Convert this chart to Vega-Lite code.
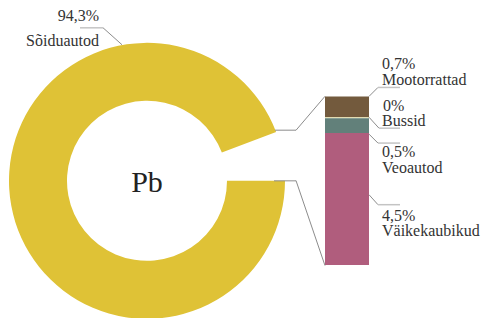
{
 "$schema": "https://vega.github.io/schema/vega-lite/v6.json",
 "width": 482, "height": 318,
 "autosize": {"type": "fit", "contains": "padding"},
 "padding": 0,
 "background": "white",
 "config": {"view": {"stroke": null}},
 "data": {"values": [
  {"category": "Sõiduautod", "pct": 94.3, "share": "94,3%", "order": 0},
  {"category": "Mootorrattad", "pct": 0.7, "share": "0,7%", "order": 1},
  {"category": "Bussid", "pct": 0.05, "share": "0%", "order": 2},
  {"category": "Veoautod", "pct": 0.5, "share": "0,5%", "order": 3},
  {"category": "Väikekaubikud", "pct": 4.5, "share": "4,5%", "order": 4}
 ]},
 "layer": [
  {"transform": [{"stack": "pct", "groupby": [], "sort": [{"field": "order", "order": "ascending"}], "as": ["th0", "th1"]}, {"filter": "datum.order === 0"}],
   "mark": {"type": "arc", "outerRadius": 138, "innerRadius": 80},
   "encoding": {
    "x": {"datum": 147, "type": "quantitative", "stack": null, "axis": null, "scale": {"domain": [0, 482], "nice": false, "zero": false}},
    "y": {"datum": 2.881, "type": "quantitative", "stack": null, "axis": null, "scale": {"domain": [-3.288, 7.492], "nice": false, "zero": false, "reverse": true}},
    "theta": {"field": "th0", "type": "quantitative", "stack": null, "scale": {"domain": [0, 100.05], "range": [1.5707963, 7.8539816], "nice": false, "zero": false}},
    "theta2": {"field": "th1"},
    "color": {"field": "category", "type": "nominal", "legend": null, "scale": {"domain": ["Sõiduautod", "Mootorrattad", "Bussid", "Veoautod", "Väikekaubikud"], "range": ["#dfc236", "#735a3d", "#e2dcb4", "#62807a", "#b05d7d"]}}
   }},
  {"transform": [{"filter": "datum.order === 0"}],
   "mark": {"type": "text", "text": "Pb", "font": "Liberation Serif", "fontSize": 30, "color": "#222", "align": "center", "baseline": "alphabetic"},
   "encoding": {"x": {"datum": 147, "type": "quantitative", "axis": null}, "y": {"datum": 3.254, "type": "quantitative", "axis": null}}},
  {"transform": [{"filter": "datum.order === 0"}],
   "mark": {"type": "text", "font": "Liberation Serif", "fontSize": 16, "color": "#333", "align": "right", "baseline": "alphabetic"},
   "encoding": {"x": {"datum": 99, "type": "quantitative", "axis": null}, "y": {"datum": -2.576, "type": "quantitative", "axis": null}, "text": {"field": "share", "type": "nominal"}}},
  {"transform": [{"filter": "datum.order === 0"}],
   "mark": {"type": "text", "font": "Liberation Serif", "fontSize": 16, "color": "#333", "align": "right", "baseline": "alphabetic"},
   "encoding": {"x": {"datum": 99, "type": "quantitative", "axis": null}, "y": {"datum": -1.729, "type": "quantitative", "axis": null}, "text": {"field": "category", "type": "nominal"}}},

  {"transform": [{"filter": "datum.order === 0"}],
   "mark": {"type": "point", "shape": "M-1,0L1,0", "size": 529, "filled": false, "color": "#c4c4c4", "strokeWidth": 1.5, "opacity": 1},
   "encoding": {"x": {"datum": 91.5, "type": "quantitative", "axis": null}, "y": {"datum": -2.339, "type": "quantitative", "axis": null}}},
  {"transform": [{"filter": "datum.order === 0"}],
   "mark": {"type": "point", "shape": "M-1,-0.895L1,0.895", "size": 361, "filled": false, "color": "#8c8c8c", "strokeWidth": 1, "opacity": 1},
   "encoding": {"x": {"datum": 112.5, "type": "quantitative", "axis": null}, "y": {"datum": -2.051, "type": "quantitative", "axis": null}}},
  {"transform": [{"filter": "datum.order === 0"}],
   "mark": {"type": "point", "shape": "M-1,0L1,0", "size": 441, "filled": false, "color": "#8c8c8c", "strokeWidth": 1, "opacity": 1},
   "encoding": {"x": {"datum": 285.5, "type": "quantitative", "axis": null}, "y": {"datum": 1.153, "type": "quantitative", "axis": null}}},
  {"transform": [{"filter": "datum.order === 0"}],
   "mark": {"type": "point", "shape": "M-0.853,1L0.853,-1", "size": 1156, "filled": false, "color": "#8c8c8c", "strokeWidth": 1, "opacity": 1},
   "encoding": {"x": {"datum": 310.5, "type": "quantitative", "axis": null}, "y": {"datum": 0.576, "type": "quantitative", "axis": null}}},
  {"transform": [{"filter": "datum.order === 0"}],
   "mark": {"type": "point", "shape": "M-1,0L1,0", "size": 484, "filled": false, "color": "#8c8c8c", "strokeWidth": 1, "opacity": 1},
   "encoding": {"x": {"datum": 285, "type": "quantitative", "axis": null}, "y": {"datum": 2.881, "type": "quantitative", "axis": null}}},
  {"transform": [{"filter": "datum.order === 0"}],
   "mark": {"type": "point", "shape": "M-0.341,-1L0.341,1", "size": 7225, "filled": false, "color": "#8c8c8c", "strokeWidth": 1, "opacity": 1},
   "encoding": {"x": {"datum": 310.5, "type": "quantitative", "axis": null}, "y": {"datum": 4.322, "type": "quantitative", "axis": null}}},

  {"transform": [{"filter": "datum.order > 0"}, {"stack": "pct", "groupby": [], "sort": [{"field": "order", "order": "ascending"}], "as": ["y0", "y1"]}],
   "mark": {"type": "bar"},
   "encoding": {
    "x": {"datum": 325, "type": "quantitative", "axis": null}, "x2": {"datum": 369},
    "y": {"field": "y0", "type": "quantitative", "axis": null}, "y2": {"field": "y1"},
    "color": {"field": "category", "type": "nominal", "legend": null}
   }},

  {"transform": [{"filter": "datum.order === 1"}],
   "mark": {"type": "point", "shape": "M-1,1L1,-1", "size": 81, "filled": false, "color": "#8c8c8c", "strokeWidth": 1, "opacity": 1},
   "encoding": {"x": {"datum": 373.5, "type": "quantitative", "axis": null}, "y": {"datum": -0.153, "type": "quantitative", "axis": null}}},
  {"transform": [{"filter": "datum.order === 1"}],
   "mark": {"type": "point", "shape": "M-1,0L1,0", "size": 484, "filled": false, "color": "#c4c4c4", "strokeWidth": 1.5, "opacity": 1},
   "encoding": {"x": {"datum": 389, "type": "quantitative", "axis": null}, "y": {"datum": -0.305, "type": "quantitative", "axis": null}}},
  {"transform": [{"filter": "datum.order === 2"}],
   "mark": {"type": "point", "shape": "M-0.909,-1L0.909,1", "size": 121, "filled": false, "color": "#8c8c8c", "strokeWidth": 1, "opacity": 1},
   "encoding": {"x": {"datum": 374, "type": "quantitative", "axis": null}, "y": {"datum": 0.898, "type": "quantitative", "axis": null}}},
  {"transform": [{"filter": "datum.order === 2"}],
   "mark": {"type": "point", "shape": "M-1,0L1,0", "size": 441, "filled": false, "color": "#c4c4c4", "strokeWidth": 1.5, "opacity": 1},
   "encoding": {"x": {"datum": 389.5, "type": "quantitative", "axis": null}, "y": {"datum": 1.085, "type": "quantitative", "axis": null}}},
  {"transform": [{"filter": "datum.order === 3"}],
   "mark": {"type": "point", "shape": "M-1,-1L1,1", "size": 81, "filled": false, "color": "#8c8c8c", "strokeWidth": 1, "opacity": 1},
   "encoding": {"x": {"datum": 373.5, "type": "quantitative", "axis": null}, "y": {"datum": 1.441, "type": "quantitative", "axis": null}}},
  {"transform": [{"filter": "datum.order === 3"}],
   "mark": {"type": "point", "shape": "M-1,0L1,0", "size": 484, "filled": false, "color": "#c4c4c4", "strokeWidth": 1.5, "opacity": 1},
   "encoding": {"x": {"datum": 389, "type": "quantitative", "axis": null}, "y": {"datum": 1.593, "type": "quantitative", "axis": null}}},
  {"transform": [{"filter": "datum.order === 4"}],
   "mark": {"type": "point", "shape": "M-0.9,-1L0.9,1", "size": 100, "filled": false, "color": "#8c8c8c", "strokeWidth": 1, "opacity": 1},
   "encoding": {"x": {"datum": 373.5, "type": "quantitative", "axis": null}, "y": {"datum": 3.525, "type": "quantitative", "axis": null}}},
  {"transform": [{"filter": "datum.order === 4"}],
   "mark": {"type": "point", "shape": "M-1,0L1,0", "size": 484, "filled": false, "color": "#c4c4c4", "strokeWidth": 1.5, "opacity": 1},
   "encoding": {"x": {"datum": 389, "type": "quantitative", "axis": null}, "y": {"datum": 3.695, "type": "quantitative", "axis": null}}},

  {"transform": [{"filter": "datum.order > 0"}, {"stack": "pct", "groupby": [], "sort": [{"field": "order", "order": "ascending"}], "as": ["y0", "y1"]}, {"filter": "datum.order === 1"}],
   "mark": {"type": "text", "font": "Liberation Serif", "fontSize": 16, "color": "#333", "align": "left", "baseline": "alphabetic", "dy": -27},
   "encoding": {"x": {"datum": 382, "type": "quantitative", "axis": null}, "y": {"field": "y0", "type": "quantitative", "axis": null}, "text": {"field": "share", "type": "nominal"}}},
  {"transform": [{"filter": "datum.order > 0"}, {"stack": "pct", "groupby": [], "sort": [{"field": "order", "order": "ascending"}], "as": ["y0", "y1"]}, {"filter": "datum.order === 1"}],
   "mark": {"type": "text", "font": "Liberation Serif", "fontSize": 16, "color": "#333", "align": "left", "baseline": "alphabetic", "dy": -11},
   "encoding": {"x": {"datum": 382, "type": "quantitative", "axis": null}, "y": {"field": "y0", "type": "quantitative", "axis": null}, "text": {"field": "category", "type": "nominal"}}},
  {"transform": [{"filter": "datum.order > 0"}, {"stack": "pct", "groupby": [], "sort": [{"field": "order", "order": "ascending"}], "as": ["y0", "y1"]}, {"filter": "datum.order === 2"}],
   "mark": {"type": "text", "font": "Liberation Serif", "fontSize": 16, "color": "#333", "align": "left", "baseline": "alphabetic", "dy": -6},
   "encoding": {"x": {"datum": 383, "type": "quantitative", "axis": null}, "y": {"field": "y0", "type": "quantitative", "axis": null}, "text": {"field": "share", "type": "nominal"}}},
  {"transform": [{"filter": "datum.order > 0"}, {"stack": "pct", "groupby": [], "sort": [{"field": "order", "order": "ascending"}], "as": ["y0", "y1"]}, {"filter": "datum.order === 2"}],
   "mark": {"type": "text", "font": "Liberation Serif", "fontSize": 16, "color": "#333", "align": "left", "baseline": "alphabetic", "dy": 9},
   "encoding": {"x": {"datum": 382, "type": "quantitative", "axis": null}, "y": {"field": "y0", "type": "quantitative", "axis": null}, "text": {"field": "category", "type": "nominal"}}},
  {"transform": [{"filter": "datum.order > 0"}, {"stack": "pct", "groupby": [], "sort": [{"field": "order", "order": "ascending"}], "as": ["y0", "y1"]}, {"filter": "datum.order === 3"}],
   "mark": {"type": "text", "font": "Liberation Serif", "fontSize": 16, "color": "#333", "align": "left", "baseline": "alphabetic", "dy": 24},
   "encoding": {"x": {"datum": 382, "type": "quantitative", "axis": null}, "y": {"field": "y1", "type": "quantitative", "axis": null}, "text": {"field": "share", "type": "nominal"}}},
  {"transform": [{"filter": "datum.order > 0"}, {"stack": "pct", "groupby": [], "sort": [{"field": "order", "order": "ascending"}], "as": ["y0", "y1"]}, {"filter": "datum.order === 3"}],
   "mark": {"type": "text", "font": "Liberation Serif", "fontSize": 16, "color": "#333", "align": "left", "baseline": "alphabetic", "dy": 40},
   "encoding": {"x": {"datum": 382, "type": "quantitative", "axis": null}, "y": {"field": "y1", "type": "quantitative", "axis": null}, "text": {"field": "category", "type": "nominal"}}},
  {"transform": [{"filter": "datum.order > 0"}, {"stack": "pct", "groupby": [], "sort": [{"field": "order", "order": "ascending"}], "as": ["y0", "y1"]}, {"filter": "datum.order === 4"}],
   "mark": {"type": "text", "font": "Liberation Serif", "fontSize": 16, "color": "#333", "align": "left", "baseline": "alphabetic", "dy": 88},
   "encoding": {"x": {"datum": 382, "type": "quantitative", "axis": null}, "y": {"field": "y0", "type": "quantitative", "axis": null}, "text": {"field": "share", "type": "nominal"}}},
  {"transform": [{"filter": "datum.order > 0"}, {"stack": "pct", "groupby": [], "sort": [{"field": "order", "order": "ascending"}], "as": ["y0", "y1"]}, {"filter": "datum.order === 4"}],
   "mark": {"type": "text", "font": "Liberation Serif", "fontSize": 16, "color": "#333", "align": "left", "baseline": "alphabetic", "dy": 103},
   "encoding": {"x": {"datum": 382, "type": "quantitative", "axis": null}, "y": {"field": "y0", "type": "quantitative", "axis": null}, "text": {"field": "category", "type": "nominal"}}}
 ]
}
